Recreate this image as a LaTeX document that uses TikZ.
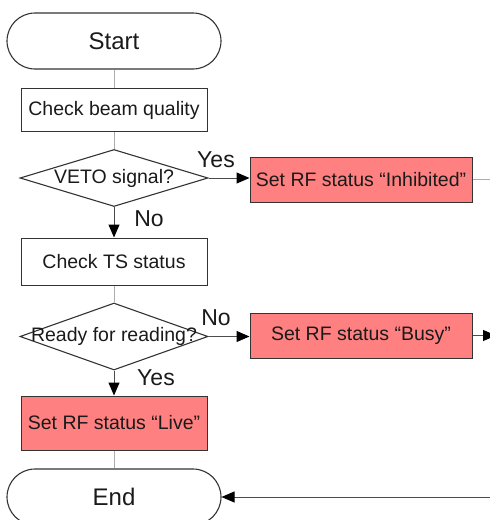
\documentclass[tikz,border=0pt]{standalone}
\usepackage{fontspec}
\setmainfont{Liberation Sans}
\usetikzlibrary{shapes.geometric,arrows.meta}
\definecolor{boxred}{HTML}{FF8080}
\definecolor{edge}{HTML}{333333}
\definecolor{txt}{HTML}{1A1A1A}
\tikzset{
  term/.style={draw=edge, line width=1.1pt, rectangle, rounded corners=28pt, minimum width=214pt, minimum height=56pt, inner sep=0pt, font=\fontsize{24}{26}\selectfont, text=txt},
  procbox/.style={draw=edge, line width=1pt, rectangle, minimum width=186pt, minimum height=43pt, inner sep=0pt, font=\fontsize{19.5}{22}\selectfont, text=txt},
  redbox/.style={procbox, fill=boxred},
  decide/.style={draw=edge, line width=1.1pt, diamond, minimum width=188pt, minimum height=57pt, inner sep=0pt},
  dtext/.style={font=\fontsize{19.5}{22}\selectfont, text=txt, inner sep=0pt},
  lbl/.style={font=\fontsize{23}{25}\selectfont, text=txt, inner sep=0pt},
  plain/.style={draw=gray!65, line width=1pt},
  arr/.style={draw=black!70, line width=1pt, -{Triangle[length=13pt,width=11pt,color=black]}},
}
\begin{document}
\begin{tikzpicture}[x=1pt,y=-1pt]
\useasboundingbox (0,0) rectangle (490,520);
\node[term] (start) at (114,41) {Start};
\node[procbox] (beam) at (114,110) {Check beam quality};
\node[decide] (veto) at (114,178) {};
\node[dtext] (vetot) at (114,178) {VETO signal?};
\node[redbox, minimum width=222pt, minimum height=45pt] (inh) at (361,179.5) {Set RF status “Inhibited”};
\node[procbox, minimum height=47pt] (ts) at (114,261.5) {Check TS status};
\node[decide, minimum height=67pt] (ready) at (114,336.5) {};
\node[dtext] (readyt) at (114,336.5) {Ready for reading?};
\node[redbox, minimum width=222pt, minimum height=45pt] (busy) at (361,335.5) {Set RF status “Busy”};
\node[redbox, minimum height=54pt] (live) at (114,423) {Set RF status “Live”};
\node[term] (fin) at (114,497) {End};
\coordinate (inhout) at (495,179.5);
\coordinate (busyout) at (496,335.5);
\coordinate (retin) at (500,497);
\node[lbl] (yes1) at (216,160) {Yes};
\node[lbl] (no1) at (149,219) {No};
\node[lbl] (no2) at (216,318) {No};
\node[lbl] (yes2) at (156,378) {Yes};
\draw[plain] (start) -- (beam);
\draw[plain] (beam) -- (veto);
\draw[arr] (veto.east) -- (veto.east -| inh.west);
\draw[arr] (veto) -- (ts);
\draw[plain] (inh.east) -- (inhout);
\draw[plain] (ts) -- (ready);
\draw[arr] (ready.east) -- (ready.east -| busy.west);
\draw[arr] (busy.east) -- (busyout);
\draw[arr] (ready) -- (live);
\draw[plain] (live) -- (fin);
\draw[arr] (retin) -- (fin.east);
\end{tikzpicture}
\end{document}
